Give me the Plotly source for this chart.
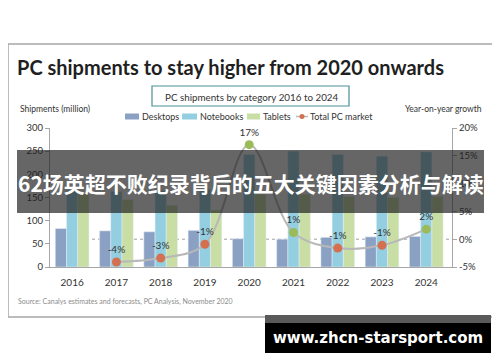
import plotly.graph_objects as go

# ---------------- data ----------------
years = ["2016", "2017", "2018", "2019", "2020", "2021", "2022", "2023", "2024"]
desktops = [83, 78, 76, 79, 61, 60, 64, 65, 66]
notebooks = [165, 163, 165, 168, 243, 250, 243, 239, 248]
tablets = [157, 145, 133, 123, 157, 157, 152, 150, 152]

growth_years = ["2017", "2018", "2019", "2020", "2021", "2022", "2023", "2024"]
growth = [-4.1, -3.4, -0.9, 17.0, 1.2, -1.6, -1.1, 1.8]
growth_labels = ["-4%", "-3%", "-1%", "17%", "1%", "-1%", "-1%", "2%"]

left_ticks = [0, 50, 100, 150, 200, 250, 300]
right_ticks = [-5, 0, 5, 10, 15, 20]
right_tick_labels = ["-5%", "0%", "5%", "10%", "15%", "20%"]

# ---------------- style ----------------
FONT = "Lato"
C_DESK = "#8ba1c4"
C_NOTE = "#93cfe0"
C_TAB = "#c8dea4"
C_NEG = "#d4704f"
C_POS = "#9bbb59"
C_LINE = "#b8b8b8"
TXT = "#333333"

OFF = 8                      # page body margin offset
W, H = 500 - OFF, 362 - OFF
PL, PR, PT, PB = 50, 452, 128, 267   # plot area in screen pixels


def xp(x):
    return (x - PL) / (PR - PL)


def yp(y):
    return (PB - y) / (PB - PT)


def ann(text, x, y, size, color=TXT, xanchor="center", family=FONT):
    return dict(text=text, xref="paper", yref="paper", x=xp(x), y=yp(y),
                xanchor=xanchor, yanchor="middle", showarrow=False,
                font=dict(family=family, size=size, color=color))


fig = go.Figure()
fig.add_trace(go.Bar(x=years, y=desktops, name="Desktops", marker_color=C_DESK))
fig.add_trace(go.Bar(x=years, y=notebooks, name="Notebooks", marker_color=C_NOTE))
fig.add_trace(go.Bar(x=years, y=tablets, name="Tablets", marker_color=C_TAB))
fig.add_trace(go.Scatter(
    x=growth_years, y=growth, yaxis="y2", name="Total PC market",
    mode="lines+markers+text",
    line=dict(color=C_LINE, width=2, shape="spline", smoothing=1.0),
    marker=dict(size=9, color=[C_NEG if v < 0 else C_POS for v in growth]),
    text=growth_labels, textposition="top center",
    textfont=dict(family=FONT, size=10, color=TXT),
    cliponaxis=False,
))

shapes = []
annotations = []

# outer border
shapes.append(dict(type="rect", xref="paper", yref="paper",
                   x0=xp(8), x1=xp(493), y0=yp(44), y1=yp(317),
                   line=dict(color="#a6a6a6", width=1.5), layer="below"))
# 0% dotted line
shapes.append(dict(type="line", xref="paper", yref="y2", x0=xp(68), x1=1, y0=0, y1=0,
                   line=dict(color="#a0a0a0", width=1, dash="dot"), layer="below"))
# subtitle box
shapes.append(dict(type="rect", xref="paper", yref="paper",
                   x0=xp(152), x1=xp(349), y0=yp(86), y1=yp(106),
                   line=dict(color="#4b8f98", width=1.2)))
annotations.append(ann("PC shipments by category 2016 to 2024", 251, 96.5, 9.8))

# manual legend
leg_y = 116.5
for x0, x1, col, label, tx in [(125, 139, C_DESK, "Desktops", 140),
                                (182, 197, C_NOTE, "Notebooks", 198),
                                (247, 260, C_TAB, "Tablets", 261)]:
    shapes.append(dict(type="rect", xref="paper", yref="paper",
                       x0=xp(x0), x1=xp(x1), y0=yp(leg_y + 3), y1=yp(leg_y - 3),
                       fillcolor=col, line=dict(width=0)))
    annotations.append(ann(label, tx, leg_y, 9, xanchor="left"))
shapes.append(dict(type="line", xref="paper", yref="paper", x0=xp(296), x1=xp(308),
                   y0=yp(leg_y), y1=yp(leg_y), line=dict(color=C_LINE, width=1.5)))
shapes.append(dict(type="circle", xref="paper", yref="paper", x0=xp(299.5), x1=xp(304.5),
                   y0=yp(leg_y + 2.5), y1=yp(leg_y - 2.5), fillcolor=C_NEG, line=dict(width=0)))
annotations.append(ann("Total PC market", 308, leg_y, 9, xanchor="left"))

# title and axis titles
annotations.append(ann("<b>PC shipments to stay higher from 2020 onwards</b>", 15, 67, 20,
                       color="#1f1f1f", xanchor="left"))
annotations.append(ann("Shipments (million)", 18, 109, 8.5, xanchor="left"))
annotations.append(ann("Year-on-year growth", 484, 109, 8.5, xanchor="right"))
annotations.append(ann("Source: Canalys estimates and forecasts, PC Analysis, November 2020",
                       16, 301, 7, color="#8c8c8c", xanchor="left"))

# overlay banner
shapes.append(dict(type="rect", xref="paper", yref="paper",
                   x0=xp(17), x1=xp(484), y0=yp(150), y1=yp(213),
                   fillcolor="rgba(30,30,30,0.68)", line=dict(width=0), layer="above"))
annotations.append(ann("<b>62场英超不败纪录背后的五大关键因素分析与解读</b>", 250.5, 183, 21,
                       color="white", family="Noto Sans CJK SC"))

# watermark
shapes.append(dict(type="rect", xref="paper", yref="paper",
                   x0=xp(265), x1=xp(491), y0=yp(315), y1=yp(323),
                   fillcolor="#5a5a5a", line=dict(width=0), layer="above"))
shapes.append(dict(type="rect", xref="paper", yref="paper",
                   x0=xp(265), x1=xp(491), y0=yp(323), y1=yp(353),
                   fillcolor="#000000", line=dict(width=0), layer="above"))
annotations.append(ann("<b>www.zhcn-starsport.com</b>", 378, 338, 15, color="white",
                       family="DejaVu Sans"))

fig.update_layout(
    width=W, height=H,
    margin=dict(l=PL - OFF, r=W - (PR - OFF), t=PT - OFF, b=H - (PB - OFF), pad=0),
    paper_bgcolor="white", plot_bgcolor="white",
    barmode="group", bargap=0.24, bargroupgap=0,
    showlegend=False,
    font=dict(family=FONT, size=10, color=TXT),
    xaxis=dict(type="category", showgrid=False, showline=True, linecolor="#a6a6a6",
               ticks="", tickfont=dict(family=FONT, size=10, color=TXT), ticklabelstandoff=6),
    yaxis=dict(range=[0, 300], tickvals=left_ticks, showgrid=False, zeroline=False,
               showline=True, linecolor="#a6a6a6", ticks="outside", ticklen=4,
               tickcolor="#a6a6a6", tickfont=dict(family=FONT, size=9.5, color=TXT)),
    yaxis2=dict(range=[-5, 20], overlaying="y", side="right", tickvals=right_ticks,
                ticktext=right_tick_labels, showgrid=False, zeroline=False,
                showline=True, linecolor="#a6a6a6", ticks="outside", ticklen=4,
                tickcolor="#a6a6a6", tickfont=dict(family=FONT, size=9.5, color=TXT)),
    shapes=shapes, annotations=annotations,
)

fig.write_html("out.html")
